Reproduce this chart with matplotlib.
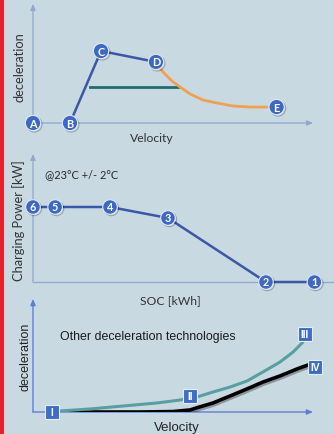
import matplotlib
matplotlib.use("Agg")
import matplotlib.pyplot as plt
import matplotlib.patheffects as pe
from matplotlib.patches import Rectangle

# ---------------- data ----------------
# Panel 1: deceleration vs velocity
p1_labels = ["A", "B", "C", "D", "E"]
p1_x = [0, 13.2, 24.3, 43.9, 87.0]
p1_y = [0, 0, 60.5, 51.3, 13.4]
p1_orange_x = [43.9, 46.4, 49.6, 52.5, 56.1, 60.7, 65.7, 71.4, 77.5, 83.6]
p1_orange_y = [51.3, 42.9, 35.3, 30.3, 24.4, 19.3, 16.8, 14.3, 13.4, 13.4]
p1_teal_x = [20.4, 51.8]
p1_teal_y = [30.3, 30.3]

# Panel 2: charging power vs SOC
p2_labels = ["6", "5", "4", "3", "2", "1"]
p2_x = [0, 7.9, 27.5, 48.2, 83.2, 100.5]
p2_y = [58.6, 58.6, 58.6, 50.0, 0, 0]
p2_note = "@23°C +/- 2°C"

# Panel 3: other deceleration technologies
p3_teal_x = [6.8, 9.6, 20.4, 32.1, 44.3, 52.5, 58.6, 64.3, 70.4, 76.4, 82.1, 88.2, 92.9, 96.4]
p3_teal_y = [0.9, 0.9, 2.7, 5.3, 8.0, 10.6, 13.3, 17.7, 22.1, 27.4, 35.4, 44.2, 53.1, 61.9]
p3_black_x = [6.8, 26.4, 38.2, 50.0, 56.1, 58.6, 64.3, 70.4, 76.4, 82.1, 88.2, 94.3, 98.2]
p3_black_y = [0, 0, 0, 0.4, 1.8, 3.8, 8.0, 14.2, 20.4, 26.5, 31.9, 38.1, 41.6]
p3_labels = ["I", "II", "III", "IV"]
p3_px = [6.8, 56.1, 97.1, 100.7]
p3_py = [0.4, 14.2, 69.0, 39.8]

# ---------------- style ----------------
W, H = 334, 435
BG = "#c9d9e2"
AXC = "#8fa8cc"
BLUE_LINE = "#3a57a8"
MK_FACE = "#3d69c4"
MK_EDGE = "#dfe8f6"
FONT1 = "Lato"
FONT3 = "Liberation Sans"

fig = plt.figure(figsize=(W / 100, H / 100), dpi=100, facecolor=BG)
fig.patches.append(Rectangle((0, 0), 4 / W, 1, transform=fig.transFigure,
                             facecolor="#e3222b", edgecolor="none"))


def make_ax(left, right, bottom, top):
    ax = fig.add_axes([left / W, 1 - bottom / H, (right - left) / W, (bottom - top) / H])
    ax.set_xlim(0, 100)
    ax.set_ylim(0, 100)
    ax.axis("off")
    ax.patch.set_alpha(0)
    return ax


def axis_arrows(ax, xend, yend, color, lw=0.9):
    ax.annotate("", xy=(xend, 0), xytext=(0, 0), annotation_clip=False,
                arrowprops=dict(arrowstyle="-|>,head_length=0.35,head_width=0.15",
                                color=color, lw=lw, shrinkA=0, shrinkB=0))
    ax.annotate("", xy=(0, yend), xytext=(0, 0), annotation_clip=False,
                arrowprops=dict(arrowstyle="-|>,head_length=0.35,head_width=0.15",
                                color=color, lw=lw, shrinkA=0, shrinkB=0))


shadow = [pe.SimpleLineShadow(offset=(1, -1), alpha=0.25), pe.Normal()]


def circles(ax, xs, ys, labels, ms=11):
    for x, y, t in zip(xs, ys, labels):
        ax.plot([x], [y], "o", ms=ms, mfc=MK_FACE, mec=MK_EDGE, mew=0.8,
                clip_on=False, zorder=5, path_effects=shadow)
        ax.text(x, y, t, color="white", fontsize=7.8, fontweight="bold",
                ha="center", va="center", family=FONT1, zorder=6)


# ---- Panel 1 ----
ax1 = make_ax(33, 313, 124, 5)
axis_arrows(ax1, 100, 100, AXC)
ax1.plot(p1_teal_x, p1_teal_y, color="#1f6e6c", lw=2.0, zorder=3)
ax1.plot(p1_orange_x, p1_orange_y, color="#f0a050", lw=2.0, zorder=3,
         solid_capstyle="round", solid_joinstyle="round")
ax1.plot(p1_x[1:4], p1_y[1:4], color=BLUE_LINE, lw=1.8, zorder=4)
circles(ax1, p1_x, p1_y, p1_labels)
ax1.text(-4.9, 48, "deceleration", rotation=90, ha="center", va="center",
         fontsize=9.3, color="#333333", family=FONT1)
ax1.text(42.5, -11.8, "Velocity", ha="center", va="center",
         fontsize=8.7, color="#333333", family=FONT1)

# ---- Panel 2 ----
ax2 = make_ax(33, 313, 283, 155)
ax2.plot([0, 108], [0, 0], color=AXC, lw=0.9, clip_on=False)
ax2.annotate("", xy=(0, 100), xytext=(0, 0), annotation_clip=False,
             arrowprops=dict(arrowstyle="-|>,head_length=0.35,head_width=0.15",
                             color=AXC, lw=0.9, shrinkA=0, shrinkB=0))
ax2.plot(p2_x, p2_y, color=BLUE_LINE, lw=1.8, zorder=4, clip_on=False)
circles(ax2, p2_x, p2_y, p2_labels, ms=10.5)
ax2.text(4.3, 85, p2_note, ha="left", va="center", fontsize=7.9,
         color="#2a2a2a", family=FONT1)
ax2.text(-5.2, 49, "Charging Power [kW]", rotation=90, ha="center", va="center",
         fontsize=9.3, color="#333333", family=FONT1)
ax2.text(49, -13.5, "SOC [kWh]", ha="center", va="center",
         fontsize=8.7, color="#333333", family=FONT1)

# ---- Panel 3 ----
ax3 = make_ax(33, 313, 413, 300)
axis_arrows(ax3, 100, 100, "#5c7fd6", lw=1.0)
ax3.plot(p3_black_x, p3_black_y, color="black", lw=2.6, zorder=3,
         solid_capstyle="round", solid_joinstyle="round",
         path_effects=[pe.SimpleLineShadow(offset=(0.5, -1.5), alpha=0.3), pe.Normal()])
ax3.plot(p3_teal_x, p3_teal_y, color="#5a9f9f", lw=2.2, zorder=4,
         solid_capstyle="round", solid_joinstyle="round")
for x, y, t in zip(p3_px, p3_py, p3_labels):
    ax3.plot([x], [y], "s", ms=9.8, mfc="#3f6cc6", mec="#e6eef8", mew=0.8,
             clip_on=False, zorder=6)
    ax3.text(x, y, t, color="white", fontsize=7.4, fontweight="bold",
             ha="center", va="center", family="DejaVu Sans Condensed"
             if False else FONT3, zorder=7)
ax3.text(9.6, 67, "Other deceleration technologies", ha="left", va="center",
         fontsize=8.9, color="#1a1a1a", family=FONT3)
ax3.text(-2.8, 50, "deceleration", rotation=90, ha="center", va="center",
         fontsize=9, color="#222222", family=FONT3)
ax3.text(51.5, -13.5, "Velocity", ha="center", va="center",
         fontsize=9.5, color="#222222", family=FONT3)

fig.savefig("out.png", dpi=100, facecolor=BG)
